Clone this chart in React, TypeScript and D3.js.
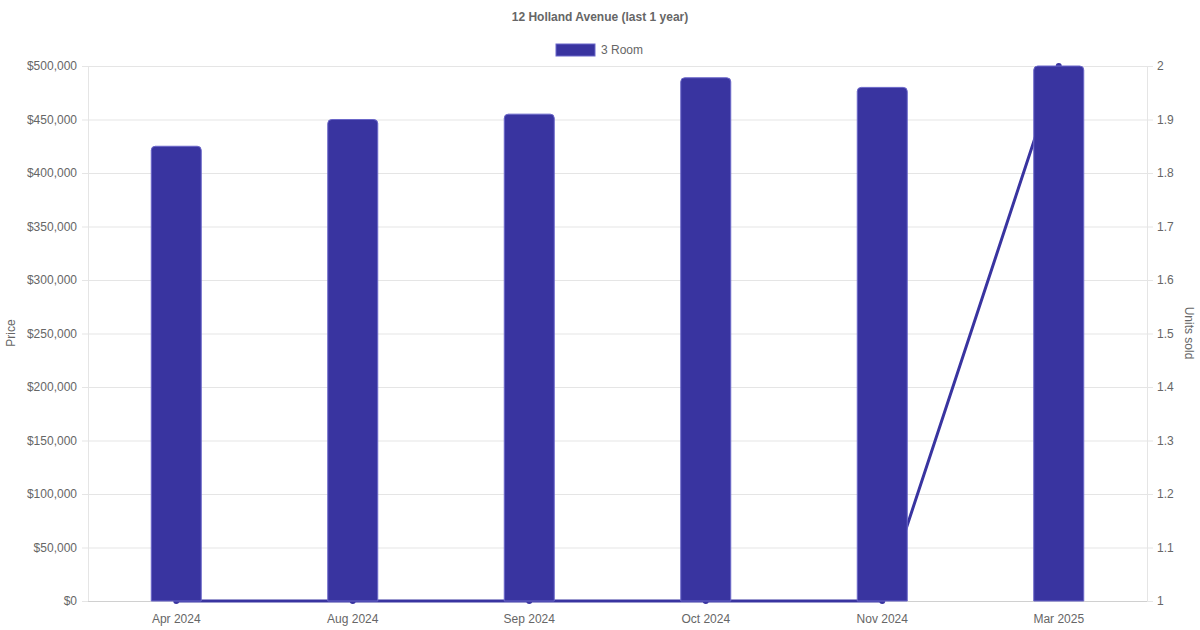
import React from "react";
import * as d3 from "d3";

const categories = ["Apr 2024", "Aug 2024", "Sep 2024", "Oct 2024", "Nov 2024", "Mar 2025"];
const prices = [425000, 450000, 455000, 489000, 480000, 500000];
const unitsSold = [1, 1, 1, 1, 1, 2];
const priceTicks = [0, 50000, 100000, 150000, 200000, 250000, 300000, 350000, 400000, 450000, 500000];
const unitTicks = [1, 1.1, 1.2, 1.3, 1.4, 1.5, 1.6, 1.7, 1.8, 1.9, 2];

const W = 1200, H = 630;
const L = 88, R = 1147, T = 66, B = 601;
const FONT = "'Liberation Sans', Arial, Helvetica, sans-serif";
const BAR = "#3934a0";
const GRID = "#e5e5e5";
const TXT = "#666";

export default function App() {
  const x = d3.scaleBand().domain(categories).range([L, R]).padding(0);
  const yL = d3.scaleLinear().domain([0, 500000]).range([B, T]);
  const yR = d3.scaleLinear().domain([1, 2]).range([B, T]);
  const fmt = (v: number) => "$" + d3.format(",")(v);
  const barW = 50;
  const r = 4;
  const barPath = (cx: number, top: number) => {
    const x0 = cx - barW / 2, x1 = cx + barW / 2;
    return `M${x0},${B} L${x0},${top + r} Q${x0},${top} ${x0 + r},${top} L${x1 - r},${top} Q${x1},${top} ${x1},${top + r} L${x1},${B} Z`;
  };
  const line = d3.line<number>().x((_, i) => x(categories[i])! + x.bandwidth() / 2).y((d) => yR(d));
  return (
    <svg width={W} height={H} style={{ position: "absolute", left: 0, top: 0, fontFamily: FONT }}>
      <rect width={W} height={H} fill="#fff" />
      <text x={600} y={21} textAnchor="middle" fontSize={12} fontWeight="bold" fill={TXT}>12 Holland Avenue (last 1 year)</text>
      <rect x={556} y={44} width={39} height={12} fill={BAR} stroke="#6b67c9" strokeWidth={1} />
      <text x={601} y={54} fontSize={12} fill={TXT}>3 Room</text>
      {priceTicks.map((t) => (
        <g key={t}>
          <line x1={L - 6} x2={R} y1={yL(t) + 0.5} y2={yL(t) + 0.5} stroke={GRID} />
          <text x={77} y={yL(t) + 4} textAnchor="end" fontSize={12} fill={TXT}>{fmt(t)}</text>
        </g>
      ))}
      {unitTicks.map((t) => (
        <g key={t}>
          <line x1={R} x2={R + 6} y1={yR(t) + 0.5} y2={yR(t) + 0.5} stroke={GRID} />
          <text x={1157} y={yR(t) + 4} fontSize={12} fill={TXT}>{String(t)}</text>
        </g>
      ))}
      <line x1={L + 0.5} x2={L + 0.5} y1={T} y2={B} stroke={GRID} />
      <line x1={R + 0.5} x2={R + 0.5} y1={T} y2={B} stroke={GRID} />
      <line x1={L} x2={R} y1={B + 0.5} y2={B + 0.5} stroke="#d0d0d0" />
      <text transform={`translate(15,333) rotate(-90)`} textAnchor="middle" fontSize={12} fill={TXT}>Price</text>
      <text transform={`translate(1185,333) rotate(90)`} textAnchor="middle" fontSize={12} fill={TXT}>Units sold</text>
      <path d={line(unitsSold)!} fill="none" stroke={BAR} strokeWidth={3} />
      {unitsSold.map((u, i) => (
        <circle key={i} cx={x(categories[i])! + x.bandwidth() / 2} cy={yR(u)} r={3} fill={BAR} />
      ))}
      {prices.map((p, i) => (
        <path key={i} d={barPath(x(categories[i])! + x.bandwidth() / 2, yL(p))} fill={BAR} stroke="#6b67c9" strokeWidth={1} />
      ))}
      {categories.map((c) => (
        <text key={c} x={x(c)! + x.bandwidth() / 2} y={623} textAnchor="middle" fontSize={12} fill={TXT}>{c}</text>
      ))}
    </svg>
  );
}
